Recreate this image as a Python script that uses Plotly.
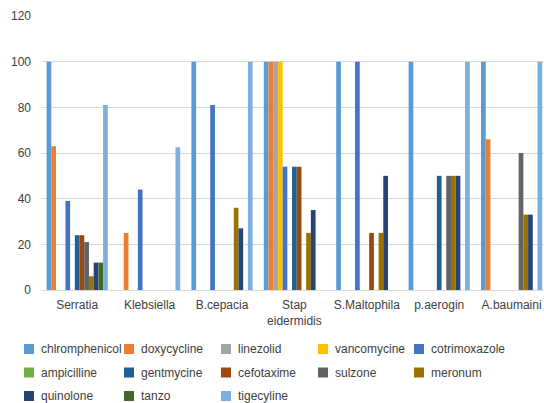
import plotly.graph_objects as go

# Bacterial isolates (x categories)
organisms = ["Serratia", "Klebsiella", "B.cepacia", "Stap<br>eidermidis",
             "S.Maltophila", "p.aerogin", "A.baumaini"]

# Antibiotic series, sensitivity (%) per isolate
chlromphenicol = [100, 0, 100, 100, 100, 100, 100]
doxycycline    = [63, 25, 0, 100, 0, 0, 66]
linezolid      = [0, 0, 0, 100, 0, 0, 0]
vancomycine    = [0, 0, 0, 100, 0, 0, 0]
cotrimoxazole  = [39, 44, 81, 54, 100, 0, 0]
ampicilline    = [0, 0, 0, 0, 0, 0, 0]
gentmycine     = [24, 0, 0, 54, 0, 50, 0]
cefotaxime     = [24, 0, 0, 54, 25, 0, 0]
sulzone        = [21, 0, 0, 0, 0, 50, 60]
meronum        = [6, 0, 36, 25, 25, 50, 33]
quinolone      = [12, 0, 27, 35, 50, 50, 33]
tanzo          = [12, 0, 0, 0, 0, 0, 0]
tigecyline     = [81, 62.5, 100, 0, 0, 100, 100]

series_names = ["chlromphenicol", "doxycycline", "linezolid", "vancomycine",
                "cotrimoxazole", "ampicilline", "gentmycine", "cefotaxime",
                "sulzone", "meronum", "quinolone", "tanzo", "tigecyline"]
series_values = [chlromphenicol, doxycycline, linezolid, vancomycine,
                 cotrimoxazole, ampicilline, gentmycine, cefotaxime,
                 sulzone, meronum, quinolone, tanzo, tigecyline]
series_colors = ["#5B9BD5", "#ED7D31", "#A5A5A5", "#FFC000", "#4472C4",
                 "#70AD47", "#255E91", "#9E480E", "#636363", "#997300",
                 "#264478", "#43682B", "#7CAFDD"]

y_ticks = [0, 20, 40, 60, 80, 100, 120]

FONT = "Liberation Sans, Arial, sans-serif"
TEXT = "#404040"
GRID = "#D9D9D9"

W, H = 544, 403
ML, MR, MT, MB = 41, 0, 16, 113
PW, PH = W - ML - MR, H - MT - MB

fig = go.Figure()
for name, vals, col in zip(series_names, series_values, series_colors):
    fig.add_trace(go.Bar(name=name, x=organisms, y=vals,
                         marker=dict(color=col, line=dict(width=0)),
                         showlegend=False))

# Legend laid out as a 5-column grid below the plot
leg_cols_px = [24, 124, 221, 318, 414]
leg_rows_px = [349, 372.5, 396]
sw = 10
shapes, annotations = [], []
for i, (name, col) in enumerate(zip(series_names, series_colors)):
    r, c = divmod(i, 5)
    x0 = (leg_cols_px[c] - ML) / PW
    x1 = (leg_cols_px[c] + sw - ML) / PW
    yc = leg_rows_px[r]
    y0 = (H - MB - (yc + sw / 2)) / PH
    y1 = (H - MB - (yc - sw / 2)) / PH
    shapes.append(dict(type="rect", xref="paper", yref="paper",
                       x0=x0, x1=x1, y0=y0, y1=y1,
                       fillcolor=col, line=dict(width=0)))
    annotations.append(dict(xref="paper", yref="paper",
                            x=(leg_cols_px[c] + 15 - ML) / PW,
                            y=(H - MB - yc) / PH,
                            xanchor="left", yanchor="middle",
                            text=name, showarrow=False,
                            font=dict(family=FONT, size=12, color=TEXT)))

cat_px = 72.4
fig.update_layout(
    width=W, height=H,
    margin=dict(l=ML, r=MR, t=MT, b=MB, pad=0),
    paper_bgcolor="white", plot_bgcolor="white",
    barmode="group", bargap=0.155, bargroupgap=0,
    font=dict(family=FONT, size=12, color=TEXT),
    shapes=shapes, annotations=annotations,
    xaxis=dict(range=[-0.5, -0.5 + PW / cat_px], showgrid=False,
               showline=True, linecolor=GRID, linewidth=1,
               ticks="", tickfont=dict(size=12, color=TEXT),
               ticklabelstandoff=4),
    yaxis=dict(range=[0, 120], tickvals=y_ticks, showgrid=True,
               gridcolor=GRID, gridwidth=1, zeroline=False, showline=False,
               ticks="", tickfont=dict(size=12, color=TEXT),
               ticklabelstandoff=9),
)

fig.write_html("out.html")
